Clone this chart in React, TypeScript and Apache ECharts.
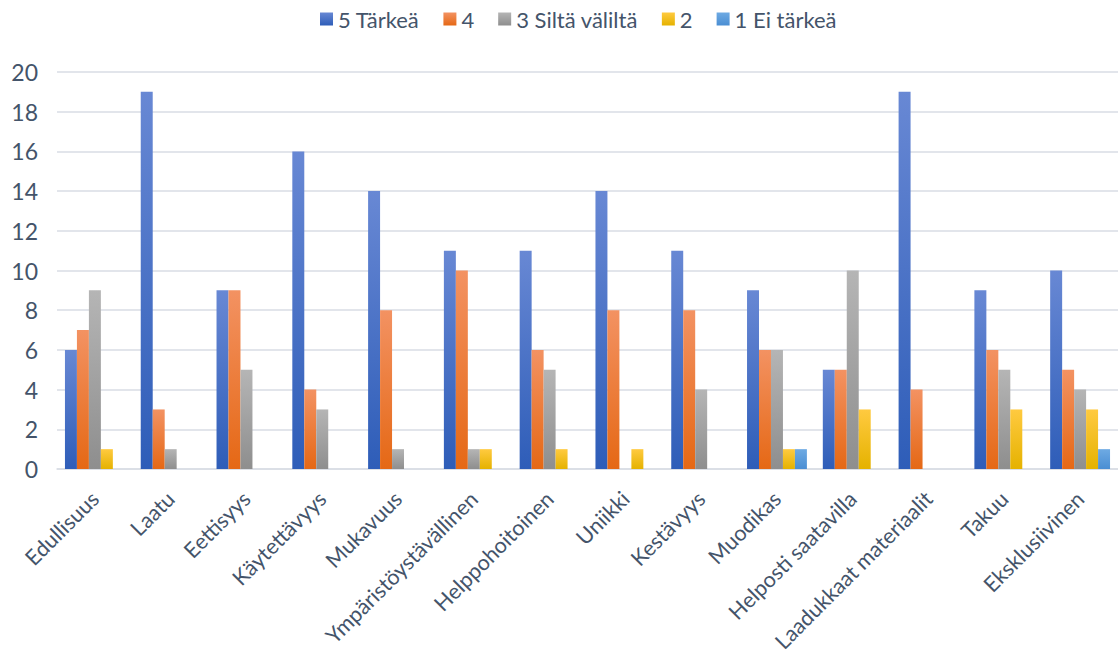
import React, { useEffect, useRef } from "react";
import * as echarts from "echarts";

const categories = [
  "Edullisuus",
  "Laatu",
  "Eettisyys",
  "Käytettävyys",
  "Mukavuus",
  "Ympäristöystävällinen",
  "Helppohoitoinen",
  "Uniikki",
  "Kestävyys",
  "Muodikas",
  "Helposti saatavilla",
  "Laadukkaat materiaalit",
  "Takuu",
  "Eksklusiivinen",
];

const seriesNames = ["5 Tärkeä", "4", "3 Siltä väliltä", "2", "1 Ei tärkeä"];

const s5 = [6, 19, 9, 16, 14, 11, 11, 14, 11, 9, 5, 19, 9, 10];
const s4 = [7, 3, 9, 4, 8, 10, 6, 8, 8, 6, 5, 4, 6, 5];
const s3 = [9, 1, 5, 3, 1, 1, 5, 0, 4, 6, 10, 0, 5, 4];
const s2 = [1, 0, 0, 0, 0, 1, 1, 1, 0, 1, 3, 0, 3, 3];
const s1 = [0, 0, 0, 0, 0, 0, 0, 0, 0, 1, 0, 0, 0, 1];

const yTicks = { min: 0, max: 20, interval: 2 };

const palette = [
  ["#6888d4", "#2e5db8"],
  ["#f39262", "#e56815"],
  ["#b5b5b5", "#8e8e8e"],
  ["#ffca40", "#e5b200"],
  ["#6eaae3", "#4a8ed3"],
];

const TEXT = "#44546a";
const FONT = "Lato";

export default function App() {
  const ref = useRef<HTMLDivElement>(null);
  useEffect(() => {
    if (!ref.current) return;
    const chart = echarts.init(ref.current, undefined, { renderer: "svg" });
    const data = [s5, s4, s3, s2, s1];
    chart.setOption({
      animation: false,
      textStyle: { fontFamily: FONT },
      legend: {
        top: 3,
        left: 315,
        icon: "rect",
        itemWidth: 13,
        itemHeight: 13,
        itemGap: 24,
        textStyle: { color: TEXT, fontSize: 22, fontFamily: FONT },
        data: seriesNames,
      },
      grid: { left: 57, right: 0, top: 72, bottom: 190, containLabel: false },
      xAxis: {
        type: "category",
        data: categories,
        axisLine: { show: true, lineStyle: { color: "#d9dde5", width: 1.5 } },
        axisTick: { show: false },
        axisLabel: {
          rotate: 45,
          interval: 0,
          margin: 26,
          color: TEXT,
          fontSize: 21.5,
          fontFamily: FONT,
        },
      },
      yAxis: {
        type: "value",
        min: yTicks.min,
        max: yTicks.max,
        interval: yTicks.interval,
        axisLine: { show: false },
        axisTick: { show: false },
        splitLine: { lineStyle: { color: "#d9dde5", width: 1.5 } },
        axisLabel: { color: TEXT, fontSize: 23, margin: 19, fontFamily: FONT },
      },
      series: data.map((d, i) => ({
        name: seriesNames[i],
        type: "bar",
        data: d,
        barGap: "0%",
        barCategoryGap: "21%",
        itemStyle: {
          color: new echarts.graphic.LinearGradient(0, 0, 0, 1, [
            { offset: 0, color: palette[i][0] },
            { offset: 1, color: palette[i][1] },
          ]),
        },
      })),
    });
    return () => chart.dispose();
  }, []);
  return (
    <div
      ref={ref}
      style={{ position: "absolute", left: 0, top: 0, width: 1118, height: 659 }}
    />
  );
}
